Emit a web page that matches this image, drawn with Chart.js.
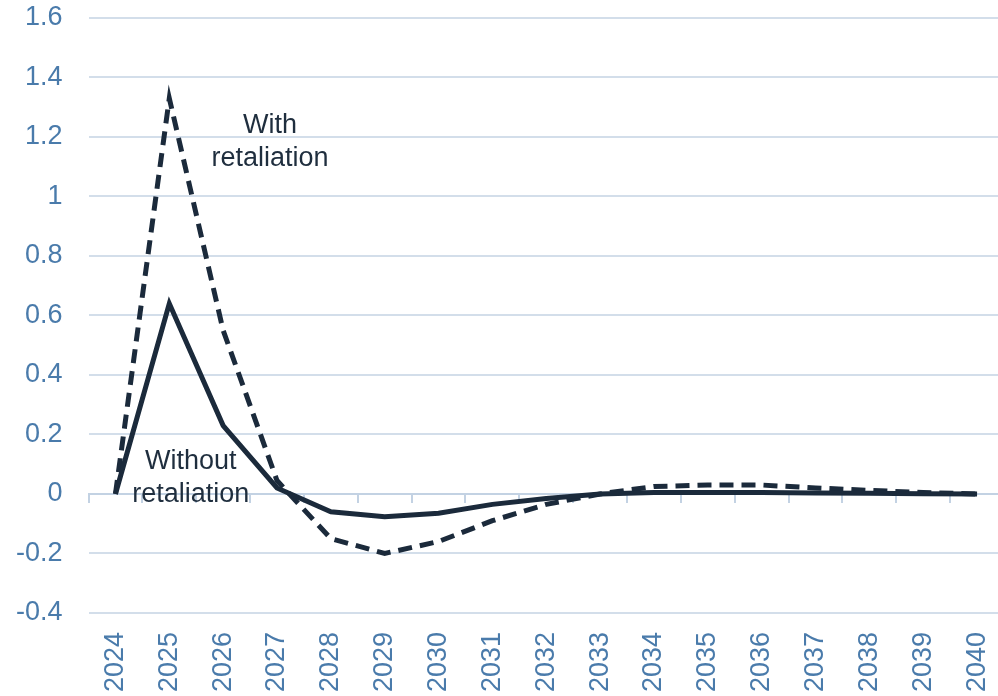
<!DOCTYPE html>
<html lang="en">
<head>
    <meta charset="UTF-8">
    <title>Retaliation chart</title>
    <script src="https://cdn.jsdelivr.net/npm/chart.js"></script>
    <style>
        html, body { margin: 0; padding: 0; overflow: hidden; background: #fff; }
        #chart-container { position: relative; width: 1004px; height: 696px; }
    </style>
</head>
<body>

<div id="chart-container">
    <canvas id="chart"></canvas>
</div>

<script>
    // Data
    const years = ['2024', '2025', '2026', '2027', '2028', '2029', '2030', '2031', '2032',
                   '2033', '2034', '2035', '2036', '2037', '2038', '2039', '2040'];
    const withoutRetaliation = [0, 0.64, 0.23, 0.02, -0.06, -0.077, -0.065, -0.035, -0.015,
                                0, 0.005, 0.005, 0.005, 0.003, 0.002, 0.001, 0];
    const withRetaliation = [0, 1.33, 0.55, 0.045, -0.15, -0.2, -0.16, -0.09, -0.035,
                             0, 0.025, 0.03, 0.03, 0.02, 0.012, 0.005, 0];

    // Annotation labels: [lines, category index, value]
    const annotations = [
        { lines: ['With', 'retaliation'], x: 2.87, y: 1.24 },
        { lines: ['Without', 'retaliation'], x: 1.4, y: 0.108 }
    ];

    const lineColor = '#1b2a3b';
    const tickColor = '#4a7bab';
    const gridColor = '#d3deea';
    const fontFamily = '"Liberation Sans", Arial, sans-serif';

    // Chart.js reserves the tick padding twice; take one back
    function trimPadding(scale) {
        const p = scale.options.ticks.padding;
        if (scale.isHorizontal()) {
            scale.height -= p;
            scale.paddingLeft = 0;
            scale.paddingRight = 0;
        } else {
            scale.width -= p;
            scale.paddingTop = Math.max(scale.paddingTop - p, 0);
            scale.paddingBottom = Math.max(scale.paddingBottom - p, 0);
        }
    }

    // Draw the text labels next to the lines
    const annotationPlugin = {
        id: 'annotationText',
        afterDatasetsDraw(chart) {
            const ctx = chart.ctx;
            const xs = chart.scales.x;
            const ys = chart.scales.y;
            ctx.save();
            ctx.font = '27px ' + fontFamily;
            ctx.fillStyle = '#1f2e3e';
            ctx.textAlign = 'center';
            ctx.textBaseline = 'middle';
            annotations.forEach(a => {
                const px = xs.getPixelForValue(a.x);
                const py = ys.getPixelForValue(a.y);
                a.lines.forEach((line, i) => {
                    ctx.fillText(line, px, py + i * 33);
                });
            });
            ctx.restore();
        }
    };

    const ctx = document.getElementById('chart').getContext('2d');
    const chart = new Chart(ctx, {
        type: 'line',
        data: {
            labels: years,
            datasets: [{
                label: 'Without retaliation',
                data: withoutRetaliation,
                borderColor: lineColor,
                borderWidth: 5,
                pointRadius: 0,
                tension: 0,
                fill: false
            }, {
                label: 'With retaliation',
                data: withRetaliation,
                borderColor: lineColor,
                borderWidth: 5,
                borderDash: [14, 8],
                pointRadius: 0,
                tension: 0,
                fill: false
            }]
        },
        options: {
            responsive: true,
            maintainAspectRatio: false,
            animation: false,
            layout: { padding: { left: 16, right: 0, top: 18, bottom: 4 } },
            plugins: {
                legend: { display: false },
                tooltip: { enabled: false }
            },
            scales: {
                x: {
                    type: 'category',
                    offset: true,
                    grid: { display: false },
                    border: { display: false },
                    afterFit: trimPadding,
                    ticks: {
                        color: tickColor,
                        font: { family: fontFamily, size: 27 },
                        minRotation: 90,
                        maxRotation: 90,
                        padding: 11,
                        autoSkip: false
                    }
                },
                // zero line with small tick marks between the years
                xZero: {
                    type: 'category',
                    position: { y: 0 },
                    offset: true,
                    grid: {
                        offset: true,
                        drawOnChartArea: false,
                        drawTicks: true,
                        tickLength: 8,
                        color: '#c3d2e3',
                        lineWidth: 2
                    },
                    border: { display: true, color: '#c3d2e3', width: 2 },
                    ticks: { display: false }
                },
                y: {
                    min: -0.4,
                    max: 1.6,
                    grid: {
                        color: gridColor,
                        lineWidth: 2,
                        drawTicks: false
                    },
                    border: { display: false },
                    afterFit: trimPadding,
                    ticks: {
                        stepSize: 0.2,
                        color: tickColor,
                        padding: 26,
                        font: { family: fontFamily, size: 27 },
                        callback: v => String(+v.toFixed(1))
                    }
                }
            }
        },
        plugins: [annotationPlugin]
    });
</script>

</body>
</html>
